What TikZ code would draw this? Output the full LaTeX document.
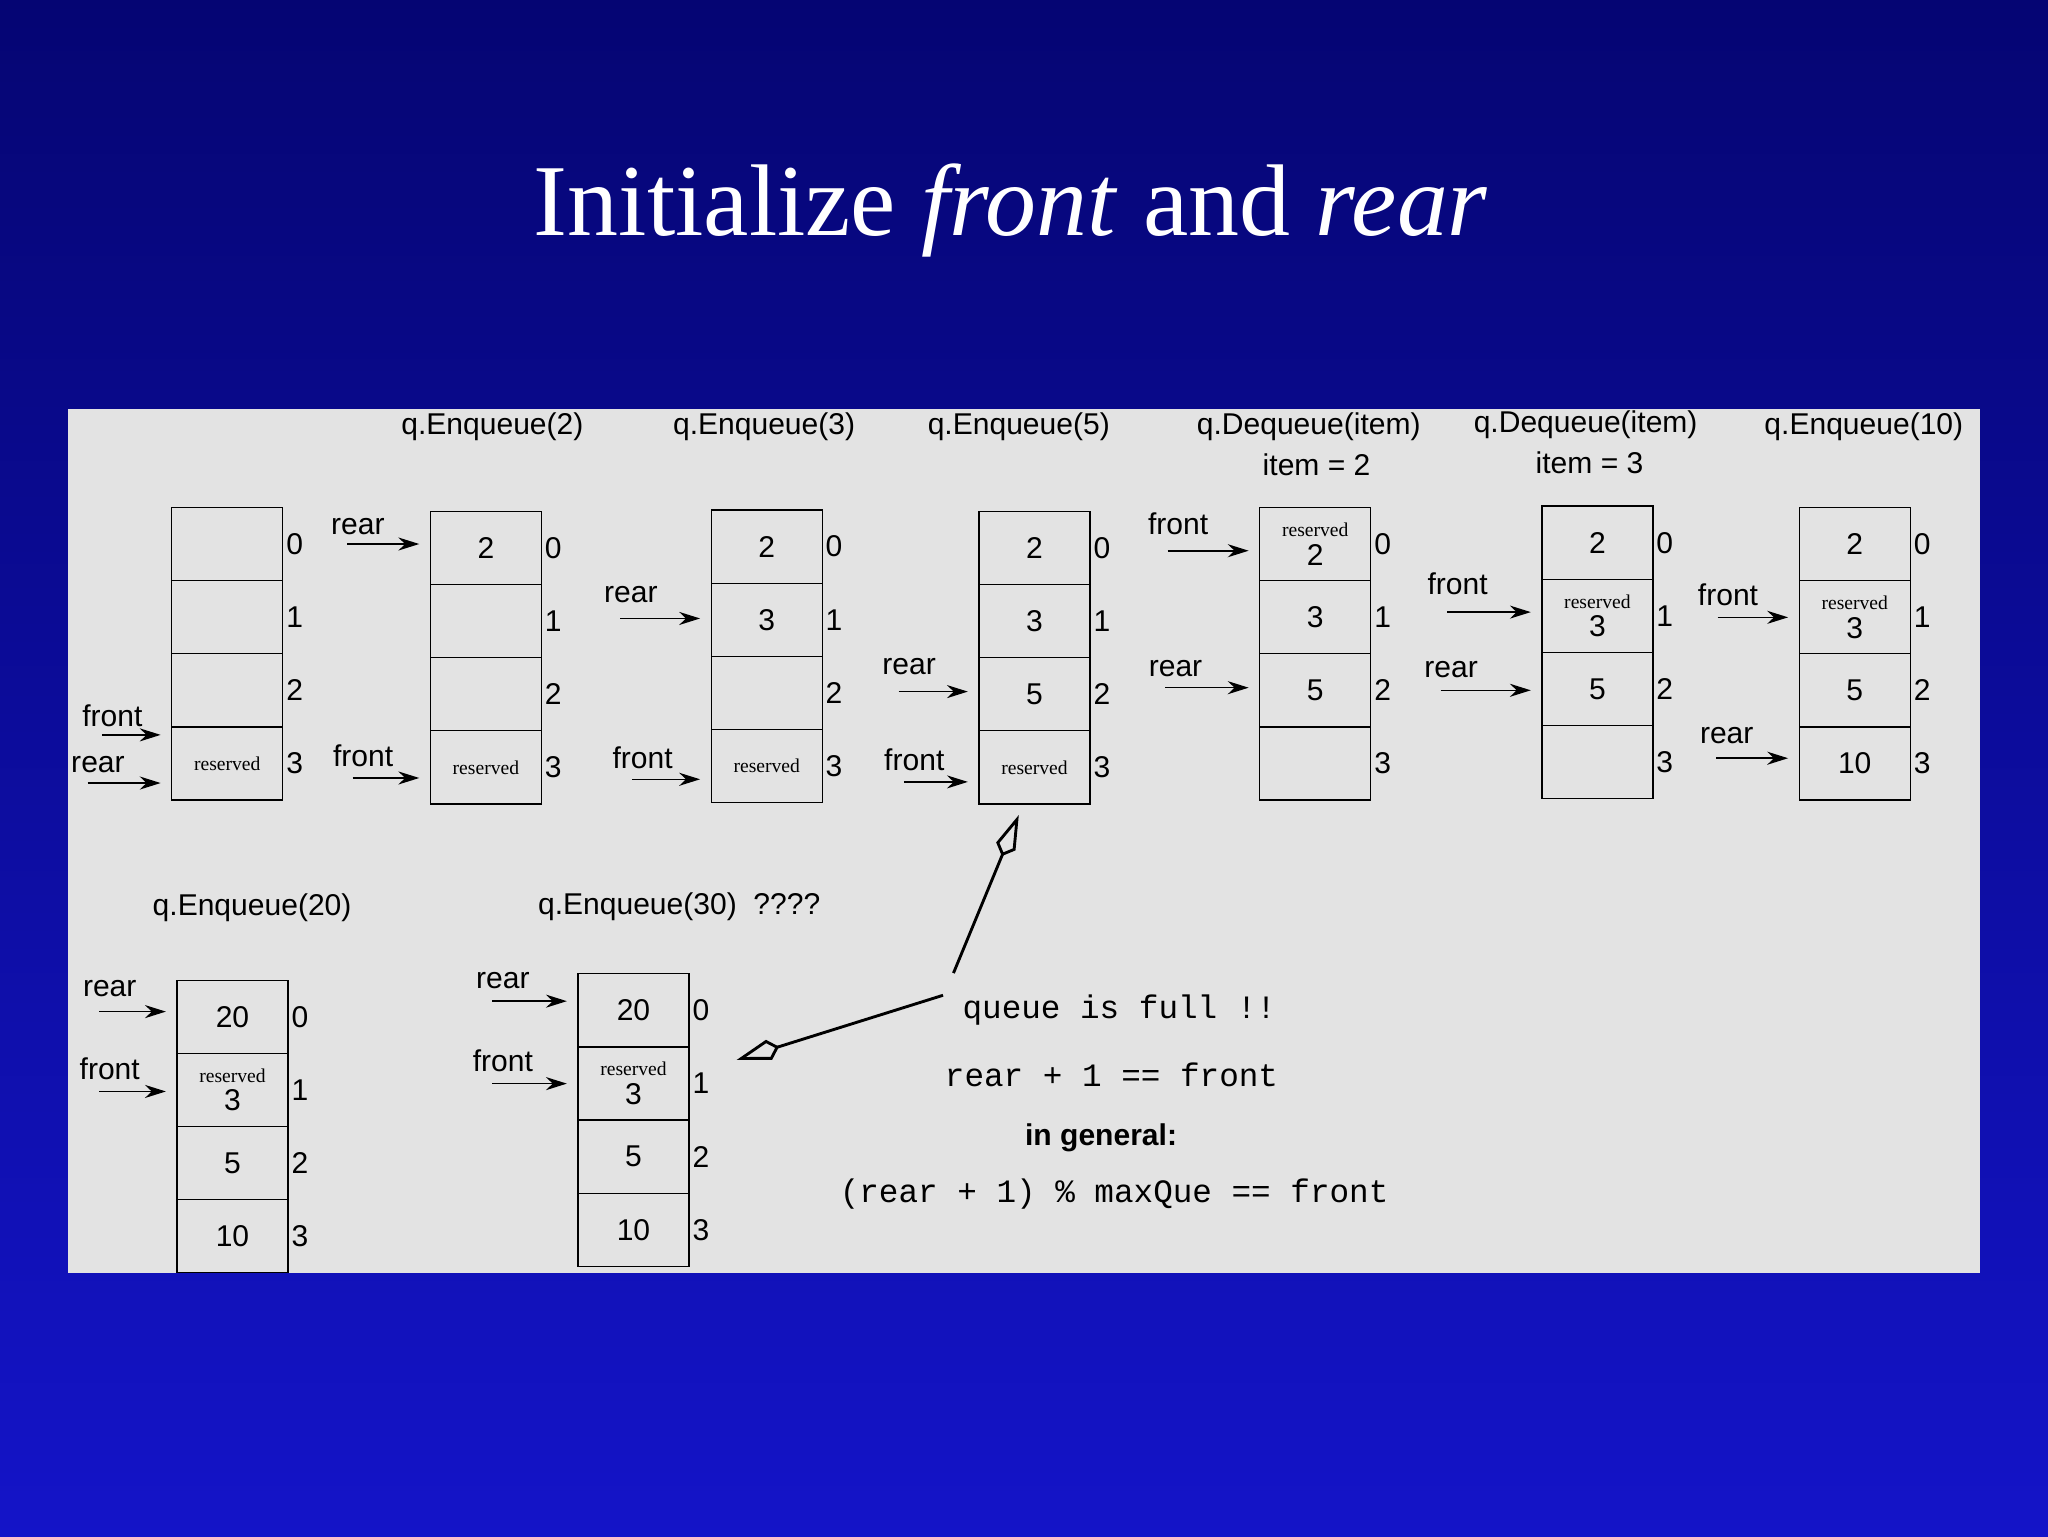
\documentclass[tikz,border=0pt]{standalone}
\usepackage{fontspec}
\setmainfont{Liberation Serif}
\setsansfont{Liberation Sans}
\setmonofont{Liberation Mono}
\usetikzlibrary{arrows.meta,calc}
\newcommand\resvd{{\rmfamily\fontsize{15}{15}\selectfont reserved}}
\newcommand\qcol[7]{%
  \foreach \i/\t in {0/#4,1/#5,2/#6,3/#7}{
    \node[cell,anchor=north west] (#1\i) at (#2,#3+\i*56) {\t};
    \node[idx,anchor=west] (#1i\i) at (#1\i.east) {\i};
  }}
\newcommand\pt[6]{% name, text, x, y, target cell, drop
  \node[lbl] (#1) at (#3,#4) {#2};
  \coordinate (#1s) at ($(#1.south)+(-8,#6)$);
  \draw[ptr] (#1s) -- (#1s -| #5.west);}
\begin{document}
\begin{tikzpicture}[x=1pt,y=-1pt,
  cell/.style={draw=black,line width=1pt,minimum width=85pt,minimum height=56pt,inner sep=0pt,align=center,font=\sffamily\fontsize{23}{22}\selectfont},
  idx/.style={font=\sffamily\fontsize{23}{23}\selectfont,inner sep=2pt},
  lbl/.style={font=\sffamily\fontsize{23}{23}\selectfont,inner sep=0pt},
  ptr/.style={line width=1.2pt,shorten >=8pt,-{Stealth[length=16pt,width=10pt]}},
  hol/.style={line width=2.2pt,-{Kite[open,length=34pt,width=16pt,inset=8pt]}},
  mono/.style={font=\ttfamily\fontsize{25}{25}\selectfont,inner sep=0pt}]
\useasboundingbox (0,0) rectangle (1568,1176);
\shade[top color={rgb,255:red,5;green,5;blue,115}, bottom color={rgb,255:red,20;green,20;blue,200}] (0,0) rectangle (1568,1176);
\node[font=\fontsize{78}{78}\selectfont,text=white,anchor=base] (title) at (774,180) {Initialize \textit{front} and \textit{rear}};
\fill[gray!22] (52,313) rectangle (1516,975);
% headers
\node[lbl] (h2) at (377,327) {q.Enqueue(2)};
\node[lbl] (h3) at (585,327) {q.Enqueue(3)};
\node[lbl] (h4) at (780,327) {q.Enqueue(5)};
\node[lbl] (h5) at (1002,327) {q.Dequeue(item)};
\node[lbl] (h5b) at (1008,356) {item = 2};
\node[lbl] (h6) at (1214,325) {q.Dequeue(item)};
\node[lbl] (h6b) at (1217,354) {item = 3};
\node[lbl] (h7) at (1427,327) {q.Enqueue(10)};
\node[lbl] (h8) at (193,695) {q.Enqueue(20)};
\node[lbl] (h9) at (520,694) {q.Enqueue(30) \ ????};
% columns
\qcol{a}{131}{388}{}{}{}{\resvd}
\qcol{b}{329}{391}{2}{}{}{\resvd}
\qcol{c}{544}{390}{2}{3}{}{\resvd}
\qcol{d}{749}{391}{2}{3}{5}{\resvd}
\qcol{e}{964}{388}{\resvd\\2}{3}{5}{}
\qcol{f}{1180}{387}{2}{\resvd\\3}{5}{}
\qcol{g}{1377}{388}{2}{\resvd\\3}{5}{10}
\qcol{h}{135}{750}{20}{\resvd\\3}{5}{10}
\qcol{k}{442}{745}{20}{\resvd\\3}{5}{10}
% pointers
\pt{af}{front}{86}{548}{a3}{6}
\pt{ar}{rear}{75}{585}{a3}{8}
\pt{br}{rear}{274}{403}{b0}{7}
\pt{bf}{front}{278}{579}{b3}{8}
\pt{cr}{rear}{483}{455}{c1}{12}
\pt{cf}{front}{492}{580}{c3}{8}
\pt{dr}{rear}{696}{510}{d2}{13}
\pt{df}{front}{700}{582}{d3}{8}
\pt{ef}{front}{902}{401}{e0}{12}
\pt{er}{rear}{900}{512}{e2}{8}
\pt{ff}{front}{1116}{447}{f1}{13}
\pt{fr}{rear}{1111}{513}{f2}{9}
\pt{gf}{front}{1323}{455}{g1}{9}
\pt{gr}{rear}{1322}{563}{g3}{11}
\pt{hr}{rear}{84}{757}{h0}{11}
\pt{hf}{front}{84}{818}{h1}{9}
\pt{kr}{rear}{385}{751}{k0}{9}
\pt{kf}{front}{385}{812}{k1}{9}
% notes
\node[mono] (full) at (857,773) {queue is full !!};
\node[mono] (eq) at (851,823) {rear + 1 == front};
\node[font=\sffamily\bfseries\fontsize{23}{23}\selectfont,inner sep=0pt] (gen) at (843,871) {in general:};
\node[mono] (gen2) at (853,914) {(rear + 1) \% maxQue == front};
\coordinate (p1) at (730,745);
\coordinate (p2) at (722,762);
\draw[hol] (p1) -- ($(d3.south)+(-12,8)$);
\draw[hol] (p2) -- ($(k1.east)+(36,-18)$);
\end{tikzpicture}
\end{document}
